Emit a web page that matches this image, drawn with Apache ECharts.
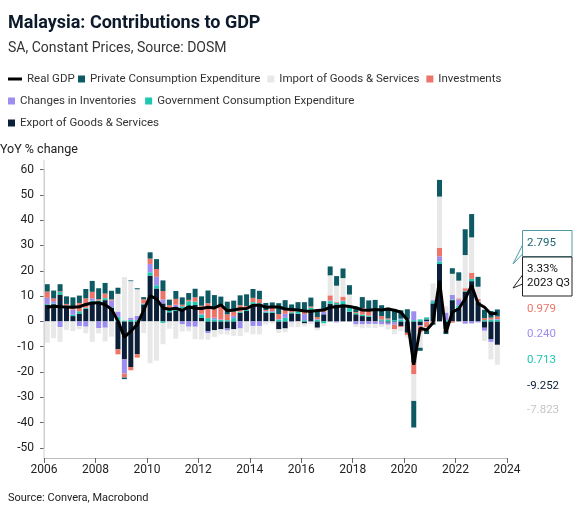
<!DOCTYPE html>
<html lang="en">
<head>
<meta charset="UTF-8">
<title>Malaysia: Contributions to GDP</title>
<script src="https://cdn.jsdelivr.net/npm/echarts@6/dist/echarts.min.js"></script>
<style>
    html, body { margin: 0; padding: 0; background: #fff; }
    #chart { width: 581px; height: 519px; }
</style>
</head>
<body>
<div id="chart"></div>
<script>
    // quarters 2006 Q1 .. 2023 Q4 (last slot has no data yet), contributions in percentage points
    var quarters = [];
    for (var y = 2006; y <= 2023; y++) {
        for (var q = 1; q <= 4; q++) {
            quarters.push(y + ' Q' + q);
        }
    }
    var yearTicks = [2006, 2024];

    var exportGS = [
        6.6, 6.8, 10.6, 5.4,   2.1, 3.1, 5.0, 7.6,   7.3, 8.4, 5.4, -11,   -15, -18, -13, 6.7,
        18.1, 13, 7.1, 3.6,    4.1, 4.2, 6.0, 6.5,   1.4, -3.8, -3.5, -3.1, -2.8, -3.1, 3.4, 4.1,
        6.7, 6.7, 3.4, 3.4,    -3.1, -2.8, 3.2, 3.0, -0.8, 3.8, -2.5, 2.8,  7.0, 6.7, 6.7, 3.8,
        2.8, 2.1, 1.8, 4.1,    0.3, -0.5, -0.3, -1.8, -4.5, -16.3, -1.5, 0.8, 7.1, 22.7, -3.0, 8.4,
        5.4, 11.8, 15.9, 7.6,  -2.5, -7.1, -9.252
    ];
    var government = [
        0.3, 0.3, 1.0, 0.9,    0.5, 0.9, 0.4, 0.6,   1.0, 0.8, 0.3, 1.8,   0.4, 0.6, 0.6, 0.3,
        1.3, 1.3, -0.6, 0.9,   0.4, 1.8, 2.0, 1.3,   1.3, 1.3, 0.8, 0.6,   0.5, 1.3, 0.5, 0.6,
        0.9, 0.5, 0.5, 0.4,    0.7, 1.4, 0.4, 1.0,   0.5, 1.6, 0.7, -0.8,  1.0, 0.7, 1.3, 1.6,
        0.5, 0.6, 0.5, 0.5,    0.5, 0.8, 0.5, 0.8,   0.7, 0.5, 0.8, 0.8,   0.9, 1.0, 0.5, 0.3,
        0.9, 0.3, 0.9, 0.3,    0.5, 0.8, 0.713
    ];
    var inventories = [
        2.4, 0.9, -2.2, 0.1,   2.1, -1.8, -2.1, 0.9, -2.6, -2.5, 2.6, 2.1,  -5.6, 0.9, 1.6, 0.1,
        3.3, 3.3, 1.6, 0.3,    2.1, -1.2, -2.1, -2.1, 0.3, -0.8, 0.7, 0.2,  -0.8, 0.9, -2.8, 0.3,
        -1.8, -1.8, 0.2, 0.3,  0.2, 1.6, -0.4, 0.3,  2.4, -0.3, 0.2, 1.0,   0.3, -0.4, 0.2, 0.3,
        -1.2, -1.2, -1.0, -1.0, -1.2, -0.8, -1.0, 0.3, 0.2, 3.5, -0.4, -0.3, 0.4, 2.0, 3.0, 1.8,
        2.4, -0.9, -0.8, -0.4, -1.2, -1.0, 0.240
    ];
    var investments = [
        2.5, 1.1, 0.3, 0.5,    1.3, 3.3, 3.7, 2.6,   0.5, 1.8, 0.4, -2.0,  -1.6, -1.3, -1.3, 1.7,
        2.1, 3.1, 3.3, 1.6,    2.3, 0.6, 0.5, 1.7,   3.2, 5.9, 3.9, 5.2,   2.3, 1.7, 2.5, 1.1,
        1.7, 1.6, 0.4, 1.3,    2.0, 1.7, 0.8, 0.4,   1.0, 0.5, 0.8, 0.9,   2.0, 0.4, 1.6, 0.3,
        0.4, 2.6, 2.0, 0.5,    1.3, 0.4, -1.8, -0.4, -0.9, -4.6, -2.5, -2.0, -0.5, 3.3, -0.5, -0.5,
        0.4, 1.0, 2.4, 1.0,    0.8, 0.7, 0.979
    ];
    var importGS = [
        -8.4, -6.6, -5.9, -3.4, -3.8, -1.3, -2.6, -8.1, -2.1, -5.4, -6.0, 7.0, 17.1, 14.4, 10.5, -4.6,
        -16.5, -15.5, -8.4, -2.9, -6.8, -2.8, -1.8, -4.9, -7.1, -2.6, -2.6, -2.0, -1.6, -2.6, -3.0, -4.4,
        -3.3, -3.3, -1.2, -0.8, -1.5, -1.5, -1.8, -2.2, -1.2, -0.8, -1.0, -1.0, 7.9, 6.3, 7.3, 4.6,
        -1.0, -1.5, -1.5, -1.6, -1.0, -1.9, -2.0, -1.7, -1.0, -10.5, -6.0, -1.2, 6.6, 20.3, 2.5, 8.3,
        7.0, 13.1, 14.0, 4.8,  -4.0, -6.9, -7.823
    ];
    var privateCons = [
        2.9, 3.1, 2.8, 3.0,    3.5, 2.9, 3.7, 4.3,   4.3, 4.2, 3.4, 2.4,   -0.6, 0.3, 0.4, 0.8,
        2.5, 3.9, 4.2, 2.2,    3.1, 2.9, 2.7, 3.4,   3.7, 5.0, 5.0, 3.8,   5.0, 4.3, 3.9, 4.6,
        3.5, 3.3, 2.8, 2.1,    4.3, 3.7, 2.3, 2.9,   3.7, 3.5, 2.6, 3.3,   3.5, 3.8, 3.8, 3.7,
        2.1, 4.3, 4.0, 3.4,    4.3, 4.2, 4.4, 3.3,   3.9, -10.5, -1.2, -1.5, -0.8, 6.6, -1.5, 2.2,
        3.3, 10.2, 9.2, 3.9,   3.3, 2.6, 2.795
    ];
    var realGDP = [
        5.6, 6.0, 5.8, 5.7,    5.6, 5.8, 6.7, 7.3,   7.4, 6.6, 4.8, 0.1,   -6.2, -3.9, -1.2, 4.4,
        10.1, 8.9, 5.3, 4.8,   5.2, 4.3, 5.8, 5.2,   5.1, 5.6, 5.3, 6.5,   4.2, 4.5, 5.0, 5.1,
        6.3, 6.5, 5.6, 5.7,    5.7, 4.9, 4.7, 4.5,   4.1, 4.0, 4.3, 4.5,   5.6, 5.8, 6.2, 5.9,
        5.4, 4.5, 4.4, 4.7,    4.5, 4.9, 4.4, 3.6,   0.7, -17.1, -2.7, -3.4, -0.5, 16.1, -4.5, 3.6,
        5.0, 8.9, 14.2, 7.1,   5.6, 2.9, 3.33
    ];

    var colors = {
        gdp: '#000000',
        priv: '#0e5a64',
        imp: '#e8e8e8',
        invest: '#ec7468',
        inv: '#9d8df1',
        gov: '#1dc7b0',
        exp: '#0b1f38'
    };

    function barSeries(name, arr, color) {
        return {
            name: name,
            type: 'bar',
            stack: 'contrib',
            barWidth: 5,
            itemStyle: { color: color },
            emphasis: { disabled: true },
            data: arr
        };
    }

    var font = 'Roboto, "Noto Sans", sans-serif';
    var last = realGDP.length - 1;

    var chart = echarts.init(document.getElementById('chart'));

    var legendText = { color: '#333', fontSize: 11.5, fontFamily: font, lineHeight: 14 };

    chart.setOption({
        animation: false,
        textStyle: { fontFamily: font },
        grid: { left: 44, right: 74, top: 169.5, bottom: 71, containLabel: false, outerBoundsMode: 'none' },
        legend: [
            {
                left: 8, top: 72, padding: 0, itemWidth: 14, itemHeight: 3, icon: 'rect',
                textStyle: legendText, data: ['Real GDP']
            },
            {
                left: 78, top: 72, padding: 0, itemWidth: 7, itemHeight: 7, itemGap: 7, icon: 'rect',
                textStyle: legendText,
                data: ['Private Consumption Expenditure', 'Import of Goods & Services', 'Investments']
            },
            {
                left: 8, top: 94, padding: 0, itemWidth: 7, itemHeight: 7, itemGap: 9, icon: 'rect',
                textStyle: legendText,
                data: ['Changes in Inventories', 'Government Consumption Expenditure']
            },
            {
                left: 8, top: 116, padding: 0, itemWidth: 7, itemHeight: 7, icon: 'rect',
                textStyle: legendText, data: ['Export of Goods & Services']
            }
        ],
        xAxis: [
            {
                // quarterly slots for the bars and the line
                type: 'category', data: quarters, boundaryGap: true,
                axisLine: { show: false }, axisTick: { show: false }, axisLabel: { show: false }
            },
            {
                // year scale carrying the visible labels
                type: 'value', min: yearTicks[0], max: yearTicks[1], interval: 2, offset: 10, position: 'bottom',
                axisLine: { onZero: false, lineStyle: { color: '#bdbdbd' } },
                axisTick: { show: true, length: 5, lineStyle: { color: '#666' } },
                axisLabel: { color: '#222', fontSize: 12, margin: 6, formatter: function (v) { return String(v); } },
                splitLine: { show: false }
            }
        ],
        yAxis: {
            type: 'value', min: -50, max: 60, interval: 10,
            axisLine: { show: true, onZero: false, lineStyle: { color: '#cfcfcf' } },
            axisTick: { show: true, length: 4, lineStyle: { color: '#666' } },
            axisLabel: { color: '#222', fontSize: 12, margin: 10 },
            splitLine: { show: false }
        },
        series: [
            barSeries('Export of Goods & Services', exportGS, colors.exp),
            barSeries('Government Consumption Expenditure', government, colors.gov),
            barSeries('Changes in Inventories', inventories, colors.inv),
            barSeries('Investments', investments, colors.invest),
            barSeries('Import of Goods & Services', importGS, colors.imp),
            barSeries('Private Consumption Expenditure', privateCons, colors.priv),
            {
                name: 'Real GDP',
                type: 'line',
                z: 10,
                symbol: 'none',
                itemStyle: { color: colors.gdp },
                lineStyle: { color: colors.gdp, width: 3 },
                emphasis: { disabled: true },
                data: realGDP
            }
        ],
        graphic: [
            {
                type: 'text', left: 8, top: 14,
                style: { text: 'Malaysia: Contributions to GDP', fontSize: 18, fontWeight: 'bold', fill: '#0d1a2b', fontFamily: font }
            },
            {
                type: 'text', left: 8, top: 41,
                style: { text: 'SA, Constant Prices, Source: DOSM', fontSize: 14, fill: '#333', fontFamily: font }
            },
            {
                type: 'text', left: 0, top: 143,
                style: { text: 'YoY % change', fontSize: 12.5, fill: '#222', fontFamily: font }
            },
            {
                type: 'text', left: 8, top: 493,
                style: { text: 'Source: Convera, Macrobond', fontSize: 11, fill: '#222', fontFamily: font }
            },
            // y axis line runs a little past the plot, as in the original
            {
                type: 'line', z: 5,
                shape: { x1: 44, y1: 160, x2: 44, y2: 458 },
                style: { stroke: '#cfcfcf', lineWidth: 1 }
            },
            // callout for private consumption
            {
                type: 'polygon', z: 20,
                shape: { points: [[522.5, 245], [513, 264], [522.5, 254]] },
                style: { fill: '#fff', stroke: '#4f9aa3', lineWidth: 1 }
            },
            {
                type: 'rect', z: 21,
                shape: { x: 522.5, y: 230.5, width: 49.5, height: 26 },
                style: { fill: '#fff', stroke: '#4f9aa3', lineWidth: 1 }
            },
            {
                type: 'polygon', z: 20,
                shape: { points: [[522.5, 275], [513, 288], [522.5, 284]] },
                style: { fill: '#fff', stroke: '#222', lineWidth: 1 }
            },
            {
                type: 'rect', z: 21,
                shape: { x: 522.5, y: 257, width: 49.5, height: 39 },
                style: { fill: '#fff', stroke: '#222', lineWidth: 1 }
            },
            {
                type: 'text', z: 22, x: 527, y: 243.5,
                style: { text: privateCons[last].toFixed(3), fontSize: 11.5, fill: '#1d6470', fontFamily: font, verticalAlign: 'middle' }
            },
            {
                type: 'text', z: 22, x: 527, y: 276,
                style: {
                    text: realGDP[last].toFixed(2) + '%\n' + quarters[last],
                    fontSize: 11.5, lineHeight: 13.5, fill: '#111', fontFamily: font, verticalAlign: 'middle'
                }
            },
            {
                type: 'text', x: 527, y: 309,
                style: { text: investments[last].toFixed(3), fontSize: 11.5, fill: colors.invest, fontFamily: font, verticalAlign: 'middle' }
            },
            {
                type: 'text', x: 527, y: 334,
                style: { text: inventories[last].toFixed(3), fontSize: 11.5, fill: colors.inv, fontFamily: font, verticalAlign: 'middle' }
            },
            {
                type: 'text', x: 527, y: 360,
                style: { text: government[last].toFixed(3), fontSize: 11.5, fill: colors.gov, fontFamily: font, verticalAlign: 'middle' }
            },
            {
                type: 'text', x: 527, y: 386,
                style: { text: exportGS[last].toFixed(3), fontSize: 11.5, fill: colors.exp, fontFamily: font, verticalAlign: 'middle' }
            },
            {
                type: 'text', x: 527, y: 410,
                style: { text: importGS[last].toFixed(3), fontSize: 11.5, fill: '#c4c4c4', fontFamily: font, verticalAlign: 'middle' }
            }
        ]
    });
</script>
</body>
</html>
